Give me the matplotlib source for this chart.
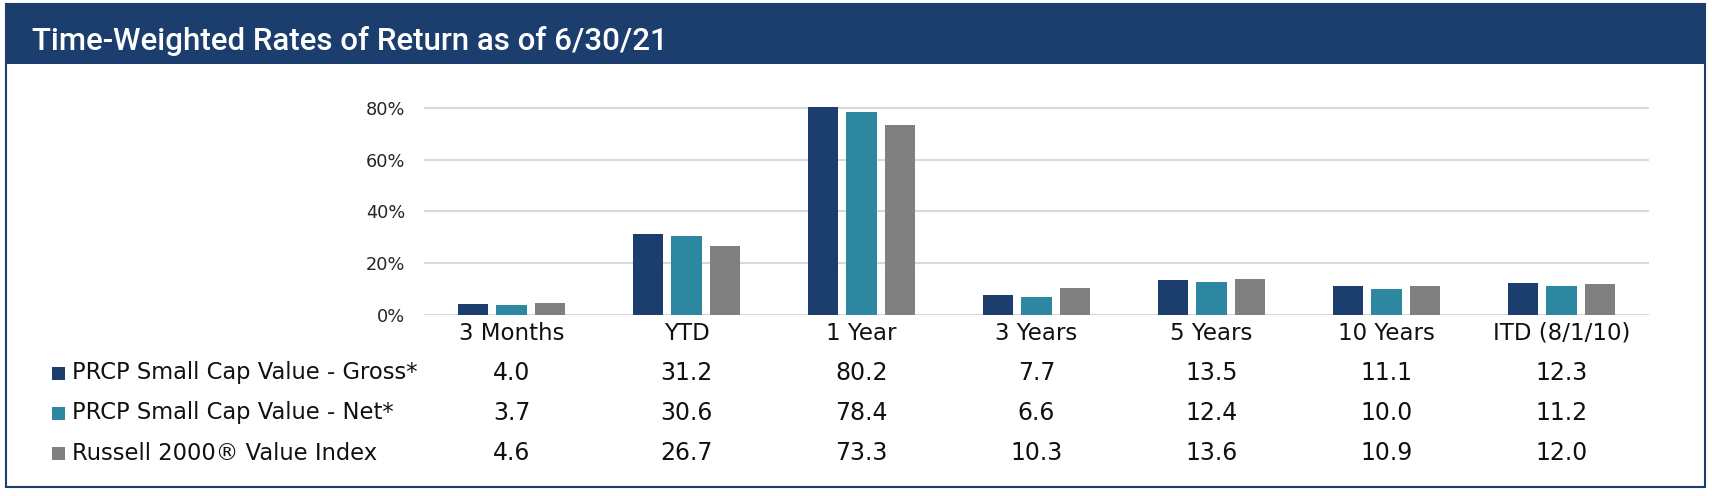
import matplotlib
matplotlib.use("Agg")
import matplotlib.pyplot as plt
from matplotlib.patches import Rectangle
from matplotlib.transforms import blended_transform_factory
from matplotlib.ticker import FuncFormatter
import numpy as np

categories = ["3 Months", "YTD", "1 Year", "3 Years", "5 Years", "10 Years", "ITD (8/1/10)"]
series_names = ["PRCP Small Cap Value - Gross*", "PRCP Small Cap Value - Net*", "Russell 2000\u00ae Value Index"]
gross = [4.0, 31.2, 80.2, 7.7, 13.5, 11.1, 12.3]
net = [3.7, 30.6, 78.4, 6.6, 12.4, 10.0, 11.2]
russell = [4.6, 26.7, 73.3, 10.3, 13.6, 10.9, 12.0]
yticks = [0, 20, 40, 60, 80]
title = "Time-Weighted Rates of Return as of 6/30/21"

navy = "#1c3e6e"
teal = "#2e87a0"
gray = "#808080"
colors = [navy, teal, gray]
series = [gross, net, russell]

W, H = 1712, 496
fig = plt.figure(figsize=(W / 100, H / 100), dpi=100)
plt.rcParams['font.family'] = ['DejaVu Sans']

def fx(px):
    return px / W

def fy(py):
    return 1 - py / H

# axes placement
ax_left, ax_right = 424, 1649
ax_bottom_px = 314.5
ymax = 88
px_per_unit = (314.5 - 108) / 80
ax_top_px = ax_bottom_px - ymax * px_per_unit
ax = fig.add_axes([fx(ax_left), fy(ax_bottom_px), fx(ax_right - ax_left), (ax_bottom_px - ax_top_px) / H])

x = np.arange(len(categories))
offsets = [-0.22, 0.0, 0.22]
bw = 0.175
for vals, c, off in zip(series, colors, offsets):
    ax.bar(x + off, vals, width=bw, color=c, zorder=3)

ax.set_xlim(-0.5, len(categories) - 0.5)
ax.set_ylim(0, ymax)
ax.set_yticks(yticks)
ax.yaxis.set_major_formatter(FuncFormatter(lambda v, p: f"{v:.0f}%"))
ax.grid(axis='y', color='#d9d9d9', linewidth=1.5, zorder=0)
ax.set_axisbelow(True)
for s in ax.spines.values():
    s.set_visible(False)
ax.tick_params(axis='y', length=0, pad=13.5, labelsize=12.8, labelcolor='#262626')
ax.tick_params(axis='x', length=0, labelbottom=False)

# table below
tr = blended_transform_factory(ax.transData, fig.transFigure)
for i, cat in enumerate(categories):
    fig.text(x[i], fy(333), cat, transform=tr, ha='center', va='center', fontsize=16.5, color='#111111')
row_y = [373, 413, 453]
for r, (name, vals, c) in enumerate(zip(series_names, series, colors)):
    yy = row_y[r]
    fig.patches.append(Rectangle((fx(52), fy(yy + 6.5)), fx(13), 13 / H, transform=fig.transFigure,
                                 facecolor=c, edgecolor='none'))
    fig.text(fx(72), fy(yy), name, ha='left', va='center', fontsize=16.3, color='#111111')
    for i, v in enumerate(vals):
        fig.text(x[i], fy(yy), f"{v:.1f}", transform=tr, ha='center', va='center', fontsize=17, color='#111111')

# title bar and border
fig.patches.append(Rectangle((fx(6), fy(64)), fx(1705 - 6), 60 / H, transform=fig.transFigure,
                             facecolor=navy, edgecolor='none', zorder=0))
fig.patches.append(Rectangle((fx(6), fy(487)), fx(1705 - 6), (487 - 4) / H, transform=fig.transFigure,
                             facecolor='none', edgecolor=navy, linewidth=1.5, zorder=5))
fig.text(fx(32), fy(49.5), title, ha='left', va='baseline', fontsize=22.5, color='white',
         family=['Roboto', 'Liberation Sans', 'DejaVu Sans'], fontweight='medium')

fig.savefig("out.png", dpi=100, facecolor='white')
